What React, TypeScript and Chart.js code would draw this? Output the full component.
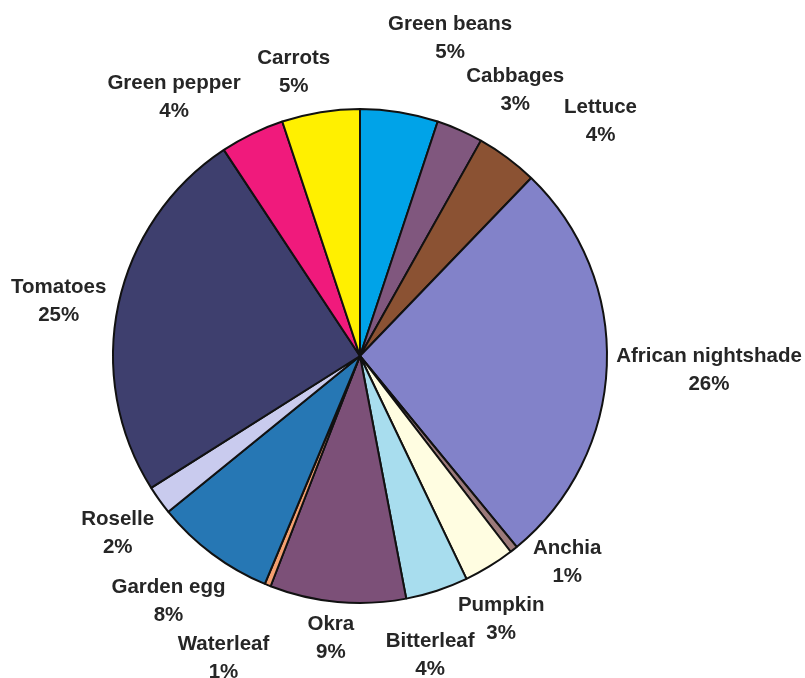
import React, { useEffect, useRef } from "react";
import { Chart, registerables } from "chart.js";

Chart.register(...registerables);

const categories = [
  "Green beans",
  "Cabbages",
  "Lettuce",
  "African nightshade",
  "Anchia",
  "Pumpkin",
  "Bitterleaf",
  "Okra",
  "Waterleaf",
  "Garden egg",
  "Roselle",
  "Tomatoes",
  "Green pepper",
  "Carrots",
];

const shares = [5.1, 3.05, 4.05, 26.9, 0.5, 3.35, 4.1, 8.9, 0.4, 7.85, 1.9, 24.7, 4.2, 5.1];

const percentLabels = ["5%", "3%", "4%", "26%", "1%", "3%", "4%", "9%", "1%", "8%", "2%", "25%", "4%", "5%"];

const sliceColors = [
  "#00A3E8",
  "#80577E",
  "#8B5233",
  "#8282C9",
  "#9C7A7A",
  "#FFFDE1",
  "#A8DDEE",
  "#7C5078",
  "#F4A070",
  "#2677B4",
  "#C9CBEE",
  "#3E3F6E",
  "#F01A7C",
  "#FFF000",
];

// label layout: angular shift from slice middle (deg) and distance beyond the pie edge (px)
const labelAngleShift = [6.6, 6.35, 8.9, -0.2, -6.8, 3.2, 4.9, 0.7, 2.5, 1.4, -0.2, -1.5, -9.7, -3.9];
const labelDistance = [84.5, 61.9, 90.3, 102.2, 44.6, 50.2, 58.9, 35.6, 82.9, 62.9, 52.1, 59.6, 72.5, 46.1];

const labelPlugin = {
  id: "outsideLabels",
  afterDatasetsDraw(chart: any) {
    const meta = chart.getDatasetMeta(0);
    const ctx = chart.ctx;
    ctx.save();
    ctx.font = "bold 20.5px 'Liberation Sans', Arial, sans-serif";
    ctx.fillStyle = "#262626";
    ctx.textAlign = "center";
    ctx.textBaseline = "middle";
    meta.data.forEach((arc: any, i: number) => {
      const p = arc.getProps(["x", "y", "startAngle", "endAngle", "outerRadius"], true);
      const mid = (p.startAngle + p.endAngle) / 2 + (labelAngleShift[i] * Math.PI) / 180;
      const d = p.outerRadius + labelDistance[i];
      const cx = p.x + Math.cos(mid) * d;
      const cy = p.y + Math.sin(mid) * d + 1.5;
      ctx.fillText(categories[i], cx, cy - 14);
      ctx.fillText(percentLabels[i], cx, cy + 14);
    });
    ctx.restore();
  },
};

export default function App() {
  const canvasRef = useRef<HTMLCanvasElement | null>(null);

  useEffect(() => {
    const canvas = canvasRef.current;
    if (!canvas) return;
    const chart = new Chart(canvas, {
      type: "pie",
      data: {
        labels: categories,
        datasets: [
          {
            data: shares,
            backgroundColor: sliceColors,
            borderColor: "#111111",
            borderWidth: 2,
          },
        ],
      },
      options: {
        responsive: false,
        animation: false,
        devicePixelRatio: 1,
        layout: {
          padding: { left: 112, right: 197, top: 108, bottom: 74 },
        },
        plugins: {
          legend: { display: false },
          tooltip: { enabled: false },
          title: { display: false },
        },
      },
      plugins: [labelPlugin],
    });
    return () => chart.destroy();
  }, []);

  return (
    <div style={{ position: "absolute", left: 0, top: 0, width: 805, height: 678, background: "#ffffff" }}>
      <canvas ref={canvasRef} width={805} height={678} />
    </div>
  );
}
